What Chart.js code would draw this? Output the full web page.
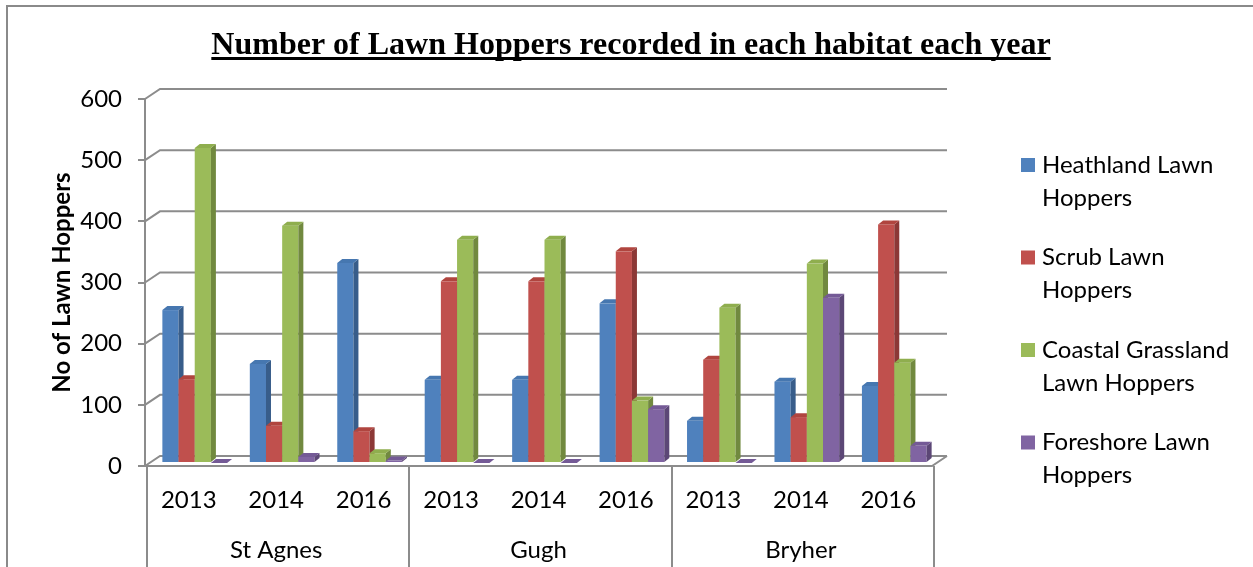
<!DOCTYPE html>
<html>
<head>
<meta charset="utf-8">
<script src="https://cdn.jsdelivr.net/npm/chart.js@4.4.1/dist/chart.umd.min.js"></script>
<style>
    html, body { margin: 0; padding: 0; background: #fff; overflow: hidden; }
    #wrap { position: relative; width: 1253px; height: 567px; }
    #frame {
        position: absolute; left: 6px; top: 5px; width: 1260px; height: 580px;
        border-left: 2px solid #8a8a8a; border-top: 2px solid #8a8a8a;
    }
    #hoppers { position: absolute; left: 0; top: 0; }
</style>
</head>
<body>
<div id="wrap">
    <div id="frame"></div>
    <canvas id="hoppers" width="1253" height="567"></canvas>
</div>
<script>
// Lawn hopper counts per habitat, per site and survey year
const years = ['2013', '2014', '2016', '2013', '2014', '2016', '2013', '2014', '2016'];
const sites = ['St Agnes', 'Gugh', 'Bryher'];
const seriesNames = ['Heathland Lawn Hoppers', 'Scrub Lawn Hoppers', 'Coastal Grassland Lawn Hoppers', 'Foreshore Lawn Hoppers'];

const heathland = [250, 162, 327, 136, 136, 261, 69, 133, 126];
const scrub     = [137, 61, 52, 297, 297, 346, 169, 75, 390];
const coastal   = [515, 388, 16, 365, 365, 102, 254, 326, 164];
const foreshore = [0, 10, 4, 0, 0, 88, 0, 270, 28];

const yTicks = [0, 100, 200, 300, 400, 500, 600];
const chartTitle = 'Number of Lawn Hoppers recorded in each habitat each year';
const yTitle = 'No of Lawn Hoppers';

// front / side / top face colours for the 3-D columns
const frontColours = ['#4f81bd', '#c0504d', '#9bbb59', '#8064a2'];
const sideColours  = ['#385d8a', '#8c3836', '#71893f', '#5c4776'];
const topColours   = ['#4677b0', '#b0453f', '#8fae4e', '#745a96'];

const GRID = '#8c8c8c';
const WALL_DX = 15, WALL_DY = -10;   // back wall offset
const BAR_DX = 5, BAR_DY = -4;       // column depth
const ROW_DX = 6, ROW_DY = -3;       // columns stand a little behind the floor edge

// Back wall gridlines, floor and category separators
const wallsPlugin = {
    id: 'walls',
    beforeDatasetsDraw(chart) {
        const ctx = chart.ctx;
        const { left, right, bottom } = chart.chartArea;
        const y = chart.scales.y;
        ctx.save();
        ctx.strokeStyle = GRID;
        ctx.lineWidth = 2;
        yTicks.forEach(v => {
            const py = y.getPixelForValue(v);
            ctx.beginPath();
            ctx.moveTo(left, py);
            ctx.lineTo(left + WALL_DX, py + WALL_DY);
            ctx.lineTo(right + WALL_DX, py + WALL_DY);
            ctx.stroke();
        });
        // floor front edge and right side
        ctx.beginPath();
        ctx.moveTo(left, bottom);
        ctx.lineTo(right, bottom);
        ctx.lineTo(right + WALL_DX, bottom + WALL_DY);
        ctx.stroke();
        ctx.restore();
    },
    afterDraw(chart) {
        const ctx = chart.ctx;
        const { left, right, bottom } = chart.chartArea;
        const x = chart.scales.x;
        const step = (right - left) / years.length;
        ctx.save();
        ctx.strokeStyle = GRID;
        ctx.lineWidth = 2;
        for (let k = 0; k <= sites.length; k++) {
            const px = Math.round(left + k * 3 * step) + 2;
            ctx.beginPath();
            ctx.moveTo(px, bottom);
            ctx.lineTo(px, chart.height);
            ctx.stroke();
        }
        // site names under the years
        ctx.fillStyle = '#000';
        ctx.font = '24px Lato';
        ctx.textAlign = 'center';
        ctx.textBaseline = 'middle';
        sites.forEach((s, i) => {
            const cx = x.getPixelForValue(i * 3 + 1);
            ctx.fillText(s, cx, 550);
        });
        ctx.restore();
    }
};

// Columns drawn series by series so each one hides the side of the previous
const columnsPlugin = {
    id: 'columns',
    afterDatasetsDraw(chart) {
        const ctx = chart.ctx;
        ctx.save();
        ctx.translate(ROW_DX, ROW_DY);
        chart.data.datasets.forEach((ds, i) => {
            chart.getDatasetMeta(i).data.forEach(bar => {
                const l = bar.x - bar.width / 2;
                const r = bar.x + bar.width / 2;
                ctx.fillStyle = frontColours[i];
                ctx.fillRect(l, bar.y, bar.width, bar.base - bar.y);
                ctx.fillStyle = sideColours[i];
                ctx.beginPath();
                ctx.moveTo(r, bar.y);
                ctx.lineTo(r + BAR_DX, bar.y + BAR_DY);
                ctx.lineTo(r + BAR_DX, bar.base + BAR_DY);
                ctx.lineTo(r, bar.base);
                ctx.closePath();
                ctx.fill();
                ctx.fillStyle = topColours[i];
                ctx.beginPath();
                ctx.moveTo(l, bar.y);
                ctx.lineTo(l + BAR_DX, bar.y + BAR_DY);
                ctx.lineTo(r + BAR_DX, bar.y + BAR_DY);
                ctx.lineTo(r, bar.y);
                ctx.closePath();
                ctx.fill();
            });
        });
        ctx.restore();
    }
};

// Underlined title and wrapped legend on the right
const textPlugin = {
    id: 'texts',
    afterDraw(chart) {
        const ctx = chart.ctx;
        ctx.save();
        ctx.fillStyle = '#000';
        ctx.font = 'bold 32px "Liberation Serif"';
        ctx.textAlign = 'center';
        ctx.textBaseline = 'alphabetic';
        ctx.fillText(chartTitle, 631, 54);
        const w = ctx.measureText(chartTitle).width;
        ctx.fillRect(631 - w / 2, 57, w, 3);

        ctx.font = '24px Lato';
        ctx.textAlign = 'left';
        ctx.textBaseline = 'middle';
        seriesNames.forEach((name, i) => {
            const cy = 165 + i * 92.5;
            ctx.fillStyle = frontColours[i];
            ctx.fillRect(1021, cy - 7, 14, 14);
            ctx.fillStyle = '#000';
            const lines = [];
            let line = '';
            name.split(' ').forEach(word => {
                const test = line ? line + ' ' + word : word;
                if (line && ctx.measureText(test).width > 205) {
                    lines.push(line);
                    line = word;
                } else {
                    line = test;
                }
            });
            lines.push(line);
            lines.forEach((t, j) => ctx.fillText(t, 1042, cy + j * 33));
        });
        ctx.restore();
    }
};

const seriesValues = [heathland, scrub, coastal, foreshore];

new Chart(document.getElementById('hoppers'), {
    type: 'bar',
    data: {
        labels: years,
        datasets: seriesValues.map((vals, i) => ({
            label: seriesNames[i],
            data: vals,
            backgroundColor: 'rgba(0,0,0,0)',
            borderWidth: 0,
            categoryPercentage: 0.74,
            barPercentage: 1.0
        }))
    },
    options: {
        responsive: false,
        animation: false,
        layout: { padding: { left: 0, top: 99, right: 1253 - 932, bottom: 0 } },
        plugins: {
            legend: { display: false },
            tooltip: { enabled: false },
            title: { display: false }
        },
        scales: {
            x: {
                grid: { display: false, drawTicks: false },
                border: { display: false },
                ticks: {
                    color: '#000',
                    font: { family: 'Lato', size: 24 },
                    padding: 20,
                    maxRotation: 0,
                    autoSkip: false
                },
                afterFit(scale) { scale.height = 101; }
            },
            y: {
                min: 0,
                max: 600,
                afterBuildTicks(scale) { scale.ticks = yTicks.map(v => ({ value: v })); },
                grid: { drawOnChartArea: false, drawTicks: true, tickLength: 7, color: GRID, lineWidth: 2 },
                border: { display: true, color: GRID, width: 2 },
                ticks: {
                    color: '#000',
                    font: { family: 'Lato', size: 24 },
                    padding: 16
                },
                title: {
                    display: true,
                    text: yTitle,
                    color: '#000',
                    font: { family: 'Lato', size: 24, weight: 'bold' },
                    padding: { top: 48, bottom: 0 }
                },
                afterFit(scale) { scale.width = 145; }
            }
        }
    },
    plugins: [wallsPlugin, columnsPlugin, textPlugin]
});
</script>
</body>
</html>
